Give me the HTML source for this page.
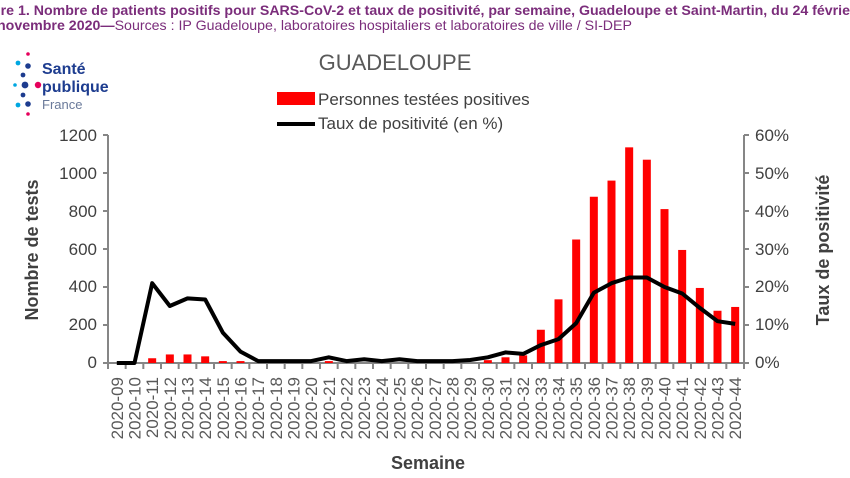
<!DOCTYPE html>
<html><head><meta charset="utf-8"><style>
html,body{margin:0;padding:0;background:#fff;width:850px;height:478px;overflow:hidden}
svg{display:block}
</style></head><body>
<svg width="850" height="478" xmlns="http://www.w3.org/2000/svg" font-family="Liberation Sans, sans-serif">
<text x="-8" y="15" font-size="14" font-weight="bold" fill="#7b2d7b" textLength="858" lengthAdjust="spacingAndGlyphs">ure 1. Nombre de patients positifs pour SARS-CoV-2 et taux de positivité, par semaine, Guadeloupe et Saint-Martin, du 24 févrie</text>
<text x="-3" y="30" font-size="14" fill="#7b2d7b" textLength="635" lengthAdjust="spacingAndGlyphs"><tspan font-weight="bold">novembre 2020—</tspan>Sources : IP Guadeloupe, laboratoires hospitaliers et laboratoires de ville / SI-DEP</text>
<!-- logo -->
<g>
<circle cx="28" cy="54" r="1.8" fill="#e6005c"/>
<circle cx="18" cy="63" r="2.4" fill="#00a7e1"/>
<circle cx="28" cy="66" r="2.8" fill="#1d3c8f"/>
<circle cx="23" cy="75" r="2.4" fill="#1d3c8f"/>
<circle cx="15" cy="85" r="1.8" fill="#00a7e1"/>
<circle cx="25" cy="85" r="3.4" fill="#1d3c8f"/>
<circle cx="38" cy="85" r="3.2" fill="#e6005c"/>
<circle cx="23" cy="95" r="2.4" fill="#1d3c8f"/>
<circle cx="18" cy="105" r="2.4" fill="#00a7e1"/>
<circle cx="28" cy="104" r="2.8" fill="#1d3c8f"/>
<circle cx="28" cy="114" r="1.8" fill="#e6005c"/>
<text x="42" y="74" font-size="16" font-weight="bold" fill="#1d3c8f">Santé</text>
<text x="42" y="92" font-size="16" font-weight="bold" fill="#1d3c8f">publique</text>
<text x="42" y="109" font-size="13" fill="#6a7a9a">France</text>
</g>
<text x="395" y="70" font-size="22" fill="#595959" text-anchor="middle">GUADELOUPE</text>
<rect x="277" y="92" width="38" height="13" fill="#ff0000"/>
<text x="318" y="105" font-size="17" fill="#404040">Personnes testées positives</text>
<line x1="277" y1="124" x2="315" y2="124" stroke="#000" stroke-width="4"/>
<text x="318" y="129" font-size="17" fill="#404040">Taux de positivité (en %)</text>
<!-- axes -->
<g stroke="#868686" stroke-width="2">
<line x1="108" y1="135" x2="108" y2="363"/>
<line x1="744" y1="135" x2="744" y2="363"/>
<line x1="103" y1="363" x2="749" y2="363"/>
</g>
<g stroke="#868686" stroke-width="2" id="ticks"></g>
<g font-size="17" fill="#404040" text-anchor="end">
<text x="97" y="141">1200</text><text x="97" y="179">1000</text><text x="97" y="217">800</text><text x="97" y="255">600</text><text x="97" y="292">400</text><text x="97" y="330">200</text><text x="97" y="368">0</text>
</g>
<g font-size="17" fill="#404040" text-anchor="start">
<text x="755" y="141">60%</text><text x="755" y="179">50%</text><text x="755" y="217">40%</text><text x="755" y="255">30%</text><text x="755" y="292">20%</text><text x="755" y="330">10%</text><text x="755" y="368">0%</text>
</g>
<text transform="translate(38,250) rotate(-90)" font-size="18" font-weight="bold" fill="#404040" text-anchor="middle">Nombre de tests</text>
<text transform="translate(829,250) rotate(-90)" font-size="18" font-weight="bold" fill="#404040" text-anchor="middle">Taux de positivité</text>
<text x="428" y="469" font-size="18" font-weight="bold" fill="#404040" text-anchor="middle">Semaine</text>
<g id="bars" fill="#ff0000"></g>
<polyline id="line" fill="none" stroke="#000" stroke-width="4" stroke-linejoin="round"/>
<g id="labels" font-size="17" fill="#595959" text-anchor="end"></g>
<script>
var ns="http://www.w3.org/2000/svg";
var x0=108,w=636/36,y0=363,h=228;
var bars=[0,0,25,45,45,35,10,10,0,0,0,0,10,0,0,0,0,0,0,0,0,15,30,40,175,335,650,875,960,1135,1070,810,595,395,275,295];
var pct=[0,0,21,15,17,16.7,8,3,0.5,0.5,0.5,0.5,1.5,0.5,1,0.5,1,0.5,0.5,0.5,0.8,1.5,2.8,2.4,4.7,6.3,10.5,18.5,21,22.5,22.5,20,18.3,14.5,11,10.3];
var bg=document.getElementById("bars"),tg=document.getElementById("ticks"),lg=document.getElementById("labels"),pts=[];
for(var i=0;i<36;i++){
 var c=x0+w*(i+0.5);
 if(bars[i]>0){var r=document.createElementNS(ns,"rect");var bh=bars[i]/1200*h;r.setAttribute("x",c-4);r.setAttribute("width",8);r.setAttribute("y",y0-bh);r.setAttribute("height",bh);bg.appendChild(r);}
 pts.push(c.toFixed(1)+","+(y0-pct[i]/60*h).toFixed(1));
 var t=document.createElementNS(ns,"line");var tx=x0+w*i;t.setAttribute("x1",tx);t.setAttribute("x2",tx);t.setAttribute("y1",363);t.setAttribute("y2",369);tg.appendChild(t);
 var l=document.createElementNS(ns,"text");l.setAttribute("transform","translate("+(c+6)+",377) rotate(-90)");var n=9+i;l.textContent="2020-"+(n<10?"0"+n:n);lg.appendChild(l);
}
var t=document.createElementNS(ns,"line");t.setAttribute("x1",744);t.setAttribute("x2",744);t.setAttribute("y1",363);t.setAttribute("y2",369);tg.appendChild(t);
[135,173,211,249,287,325].forEach(function(y){
 var a=document.createElementNS(ns,"line");a.setAttribute("x1",103);a.setAttribute("x2",108);a.setAttribute("y1",y);a.setAttribute("y2",y);tg.appendChild(a);
 var b=document.createElementNS(ns,"line");b.setAttribute("x1",744);b.setAttribute("x2",749);b.setAttribute("y1",y);b.setAttribute("y2",y);tg.appendChild(b);
});
document.getElementById("line").setAttribute("points",pts.join(" "));
</script>
</svg>
</body></html>
